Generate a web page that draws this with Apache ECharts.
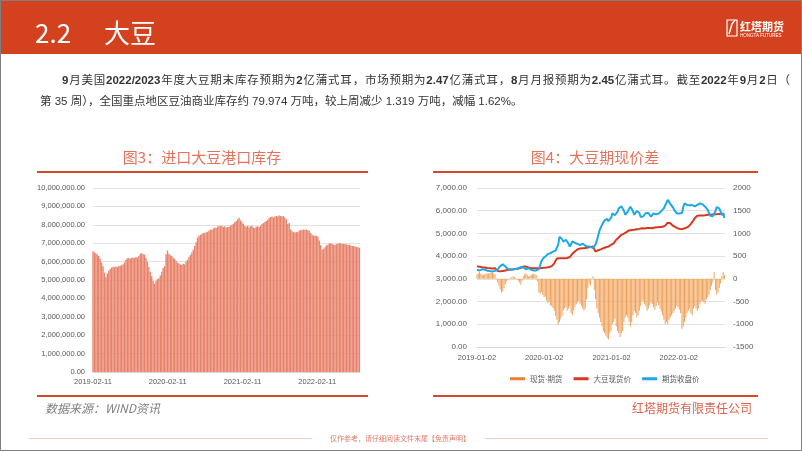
<!DOCTYPE html>
<html><head><meta charset="utf-8">
<script src="https://cdn.jsdelivr.net/npm/echarts@6/dist/echarts.min.js"></script>
<style>
html,body{margin:0;padding:0;background:#fff;}
#wrap{position:relative;width:802px;height:451px;overflow:hidden;background:#fff;}
#chart{position:absolute;left:0;top:0;width:802px;height:451px;}
.p{position:absolute;font-family:"Liberation Sans","Noto Sans CJK SC",sans-serif;font-size:11.5px;color:#333;line-height:14px;z-index:5;}
#l1{left:62px;top:73px;width:728px;text-align:justify;text-align-last:justify;}
#l2{left:40px;top:94px;white-space:nowrap;}
</style></head>
<body><div id="wrap"><div id="chart"></div>
<div class="p" id="l1"><b>9</b>月美国<b>2022/2023</b>年度大豆期末库存预期为<b>2</b>亿蒲式耳，市场预期为<b>2.47</b>亿蒲式耳，<b>8</b>月月报预期为<b>2.45</b>亿蒲式耳。截至<b>2022</b>年<b>9</b>月<b>2</b>日（</div>
<div class="p" id="l2">第 35 周），全国重点地区豆油商业库存约 79.974 万吨，较上周减少 1.319 万吨，减幅 1.62%。</div>
</div>
<script>
// ---- Figure 3: imported soybean port inventory (weekly, tonnes) ----
const invStart = '2019-02-11';
const invTicks = ['2019-02-11','2020-02-11','2021-02-11','2022-02-11'];
const invValues = [
6560000,6500000,6450000,6380000,6300000,6150000,5950000,5750000,5400000,5150000,
5350000,5500000,5600000,5680000,5720000,5700000,5730000,5700000,5750000,5780000,
5800000,5850000,5950000,6100000,6180000,6200000,6150000,6200000,6220000,6200000,
6250000,6220000,6300000,6420000,6450000,6400000,6380000,6200000,6000000,5700000,
5450000,5200000,4950000,4800000,4950000,5050000,5100000,5250000,5450000,5650000,
5750000,6400000,6600000,6420000,6350000,6300000,6220000,6150000,6050000,5950000,
5900000,5850000,5820000,5880000,5850000,6000000,6100000,6250000,6350000,6500000,
6650000,6850000,7050000,7300000,7400000,7450000,7500000,7550000,7550000,7600000,
7620000,7680000,7750000,7720000,7800000,7850000,7820000,7900000,7950000,7920000,
7950000,7880000,7920000,7850000,7880000,7900000,7950000,8000000,8050000,8150000,
8200000,8300000,8380000,8250000,8150000,8050000,7950000,7900000,7950000,7850000,
7920000,7950000,7850000,7820000,7900000,7920000,7880000,7950000,8050000,8100000,
8150000,8200000,8280000,8380000,8420000,8450000,8400000,8450000,8480000,8450000,
8500000,8480000,8450000,8480000,8400000,8300000,8050000,8100000,7750000,7650000,
7600000,7580000,7620000,7600000,7680000,7720000,7700000,7750000,7720000,7750000,
7700000,7680000,7550000,7450000,7400000,7420000,7400000,7350000,7150000,6900000,
6650000,6700000,6800000,6880000,6920000,6980000,7000000,6950000,6920000,6900000,
6950000,6980000,7000000,6980000,6950000,6970000,6950000,6930000,6900000,6920000,
6880000,6850000,6850000,6820000,6800000,6780000,6750000];

// ---- Figure 4: soybean basis (weekly) ----
const basisStart = '2019-01-02';
const basisTicks = ['2019-01-02','2020-01-02','2021-01-02','2022-01-02'];
const futValues = [
3400,3380,3370,3400,3420,3430,3410,3380,3360,3350,
3340,3330,3320,3340,3350,3360,3420,3480,3560,3620,
3640,3580,3540,3480,3430,3420,3400,3390,3410,3420,
3440,3430,3460,3480,3520,3540,3500,3440,3420,3450,
3470,3430,3400,3390,3370,3380,3370,3400,3430,3600,
3780,3880,3950,3980,4060,4100,4050,4130,4160,4200,
4180,4250,4300,4500,4850,4880,4750,4640,4680,4720,
4700,4550,4420,4520,4650,4620,4580,4560,4540,4500,
4490,4520,4550,4500,4460,4450,4420,4420,4410,4380,
4350,4400,4520,4680,4900,5120,5250,5380,5460,5580,
5660,5640,5540,5520,5680,5880,5900,5800,5830,5950,
6100,6120,6200,6270,6000,5820,5880,5960,6080,6180,
6150,5980,5820,5880,5990,6050,5900,5720,5660,5750,
5820,5900,5960,5900,5820,5740,5800,5880,5900,5840,
5800,5880,5950,5980,6060,6110,6150,6350,6480,6420,
6300,6220,6150,6040,5980,5880,5820,5880,5960,5900,
6150,6330,6300,6250,6260,6240,6270,6250,6200,6190,
6230,6260,6300,6320,6330,6280,6200,6180,6100,6040,
5900,5780,5740,5760,5800,5980,6160,6170,6100,5960,
5800,5900,5680];
const spotValues = [
3550,3540,3530,3520,3510,3500,3500,3490,3480,3470,
3470,3470,3460,3470,3470,3400,3350,3340,3330,3340,
3350,3360,3370,3390,3400,3400,3410,3420,3420,3430,
3440,3450,3460,3470,3480,3500,3540,3550,3540,3520,
3500,3480,3480,3470,3470,3470,3470,3470,3470,3480,
3480,3480,3490,3500,3500,3510,3520,3530,3560,3600,
3680,3800,3900,3920,3910,3900,3910,3920,3910,3900,
3920,3940,3960,4020,4100,4150,4200,4280,4300,4320,
4340,4350,4350,4360,4360,4370,4380,4390,4400,4410,
4420,4300,4200,4220,4260,4280,4300,4330,4350,4370,
4390,4400,4420,4460,4500,4520,4560,4640,4720,4780,
4820,4880,4940,4960,4990,5020,5060,5100,5130,5150,
5150,5160,5160,5170,5180,5190,5200,5220,5230,5230,
5220,5230,5240,5230,5240,5240,5230,5240,5260,5260,
5270,5270,5280,5280,5290,5300,5340,5420,5470,5520,
5450,5380,5340,5300,5280,5250,5220,5200,5190,5200,
5210,5230,5240,5260,5300,5380,5420,5480,5580,5680,
5750,5780,5790,5790,5780,5790,5800,5800,5810,5820,
5820,5820,5830,5830,5840,5840,5850,5850,5860,5870,
5860,5850,5820];
const basisValues = [
100,120,150,110,90,80,100,120,110,120,
130,140,130,120,100,20,-80,-150,-230,-300,
-280,-200,-120,-60,-20,-10,20,40,50,40,
20,-10,-40,-80,-130,-40,60,110,120,90,
50,70,90,100,110,100,80,-50,-300,-330,
-290,-350,-400,-390,-480,-530,-500,-580,-600,-640,
-700,-820,-900,-1010,-950,-880,-820,-700,-650,-620,
-700,-650,-600,-750,-800,-700,-620,-560,-520,-480,
-550,-600,-650,-700,-650,-450,-200,-100,-150,20,
60,-250,-450,-650,-750,-850,-950,-1050,-1150,-1200,
-1250,-1300,-1330,-1200,-1150,-1000,-950,-880,-1050,-1150,
-1200,-1280,-1200,-1150,-950,-850,-800,-850,-950,-1050,
-950,-800,-700,-750,-850,-800,-700,-600,-500,-480,
-550,-600,-700,-650,-580,-520,-560,-620,-680,-600,
-520,-580,-660,-720,-800,-900,-1000,-950,-1000,-900,
-850,-800,-750,-700,-650,-600,-620,-680,-750,-1100,
-1050,-950,-850,-750,-700,-650,-750,-800,-650,-600,
-650,-700,-650,-550,-500,-480,-520,-550,-450,-400,
-350,-250,-150,-80,150,-250,-350,-300,-200,-100,
60,150,80];

function ts(s){ const a=s.split('-').map(Number); return new Date(a[0],a[1]-1,a[2]).getTime(); }
function weeklyDates(start,n){ const a=start.split('-').map(Number); const out=[]; for(let i=0;i<n;i++) out.push(new Date(a[0],a[1]-1,a[2]+7*i).getTime()); return out; }
function fmtDate(v){ const d=new Date(v); const p=n=>String(n).padStart(2,'0'); return d.getFullYear()+'-'+p(d.getMonth()+1)+'-'+p(d.getDate()); }
function fmtNum(v){ return Number(v).toLocaleString('en-US',{minimumFractionDigits:2,maximumFractionDigits:2}); }

const invDates = weeklyDates(invStart, invValues.length);
const bDates = weeklyDates(basisStart, futValues.length);
const DAY = 86400000;
const lab = {fontSize:7.5, color:'#595959', fontFamily:'Liberation Sans'};
const grid = {lineStyle:{color:'#E2E2E2', width:1}};

const chart = echarts.init(document.getElementById('chart'), null, {renderer:'canvas'});
chart.setOption({
  animation:false,
  backgroundColor:'#fff',
  grid:[
    {left:93, top:188, width:267, height:184},
    {left:477, top:188, width:248, height:159}
  ],
  legend:{
    left:505, top:370, itemWidth:15, itemHeight:3, itemGap:11,
    textStyle:{fontSize:7.5, color:'#595959', fontFamily:'Noto Sans CJK SC'},
    data:[
      {name:'现货-期货', icon:'rect', itemStyle:{color:'#ED7D31'}},
      {name:'大豆现货价', icon:'rect'},
      {name:'期货收盘价', icon:'rect'}
    ]
  },
  xAxis:[
    {type:'value', gridIndex:0, min:ts(invStart), max:invDates[invDates.length-1]+3*DAY, scale:true,
     axisLine:{show:true, lineStyle:{color:'#D9D9D9'}}, axisTick:{show:false}, splitLine:{show:false},
     axisLabel:Object.assign({customValues:invTicks.map(ts), formatter:v=>fmtDate(v), margin:6, showMinLabel:true, hideOverlap:false}, lab)},
    {type:'value', gridIndex:1, min:ts(basisStart), max:bDates[bDates.length-1]+3*DAY, scale:true,
     axisLine:{show:true, lineStyle:{color:'#D9D9D9'}}, axisTick:{show:false}, splitLine:{show:false},
     axisLabel:Object.assign({customValues:basisTicks.map(ts), formatter:v=>fmtDate(v), margin:7, showMinLabel:true, hideOverlap:false}, lab)}
  ],
  yAxis:[
    {type:'value', gridIndex:0, min:0, max:10000000, interval:1000000,
     axisLine:{show:false}, axisTick:{show:false}, splitLine:grid,
     axisLabel:Object.assign({formatter:v=>fmtNum(v), margin:8}, lab)},
    {type:'value', gridIndex:1, position:'left', min:0, max:7000, interval:1000,
     axisLine:{show:false}, axisTick:{show:false}, splitLine:grid,
     axisLabel:Object.assign({formatter:v=>fmtNum(v), margin:10}, lab, {fontSize:8})},
    {type:'value', gridIndex:1, position:'right', min:-1500, max:2000, interval:500,
     axisLine:{show:false}, axisTick:{show:false}, splitLine:{show:false},
     axisLabel:Object.assign({formatter:v=>String(v), margin:8}, lab, {fontSize:8})}
  ],
  series:[
    {name:'进口大豆港口库存', type:'bar', xAxisIndex:0, yAxisIndex:0, barWidth:1.35,
     itemStyle:{color:'#E8826A'}, data:invDates.map((d,i)=>[d, invValues[i]])},
    {name:'现货-期货', type:'bar', xAxisIndex:1, yAxisIndex:2, barWidth:1.0,
     itemStyle:{color:'#F0A25A'}, data:bDates.map((d,i)=>[d, basisValues[i]])},
    {name:'大豆现货价', type:'line', xAxisIndex:1, yAxisIndex:1, showSymbol:false,
     lineStyle:{color:'#D8361E', width:2}, itemStyle:{color:'#D8361E'}, data:bDates.map((d,i)=>[d, spotValues[i]])},
    {name:'期货收盘价', type:'line', xAxisIndex:1, yAxisIndex:1, showSymbol:false,
     lineStyle:{color:'#1CA9E6', width:2}, itemStyle:{color:'#1CA9E6'}, data:bDates.map((d,i)=>[d, futValues[i]])}
  ],
  graphic:[
    {type:'rect', shape:{x:0,y:0,width:802,height:54}, style:{fill:'#D3411E'}, silent:true},
    {type:'rect', shape:{x:0,y:0,width:802,height:1}, style:{fill:'#8E6A50'}, silent:true},
    {type:'rect', shape:{x:0.5,y:0.5,width:801,height:450}, style:{fill:'none', stroke:'#7F7F7F', lineWidth:1}, silent:true},
    {type:'text', x:35, y:33, style:{text:'2.2', fill:'#fff', font:'26px "Noto Sans CJK SC"', verticalAlign:'middle'}},
    {type:'text', x:104, y:33, style:{text:'大豆', fill:'#fff', font:'26px "Noto Sans CJK SC"', verticalAlign:'middle'}},
    {type:'rect', shape:{x:727,y:20,width:10,height:16}, style:{fill:'none', stroke:'#fff', lineWidth:1.2}},
    {type:'polyline', shape:{points:[[729,34],[732,24],[735,20]]}, style:{stroke:'#fff', lineWidth:1.5, fill:'none'}},
    {type:'text', x:740, y:27, style:{text:'红塔期货', fill:'#fff', font:'bold 11px "Noto Sans CJK SC"', verticalAlign:'middle'}},
    {type:'text', x:740, y:35.5, style:{text:'HONGTA FUTURES', fill:'#fff', font:'4.5px "Liberation Sans"', verticalAlign:'middle'}},
    {type:'text', x:202, y:157, style:{text:'图3：进口大豆港口库存', fill:'#E5735C', font:'15px "Noto Sans CJK SC"', align:'center', verticalAlign:'middle'}},
    {type:'text', x:595, y:157, style:{text:'图4：大豆期现价差', fill:'#E5735C', font:'15px "Noto Sans CJK SC"', align:'center', verticalAlign:'middle'}},
    {type:'rect', shape:{x:37,y:171,width:331,height:2}, style:{fill:'#D44A2A'}},
    {type:'rect', shape:{x:433,y:171,width:325,height:2}, style:{fill:'#D44A2A'}},
    {type:'rect', shape:{x:37,y:395,width:331,height:2}, style:{fill:'#D44A2A'}},
    {type:'rect', shape:{x:433,y:395,width:325,height:2}, style:{fill:'#D44A2A'}},
    {type:'text', x:45, y:408, style:{text:'数据来源：WIND资讯', fill:'#7F7F7F', font:'italic 12px "Noto Sans CJK SC"', verticalAlign:'middle'}},
    {type:'text', x:752, y:408, style:{text:'红塔期货有限责任公司', fill:'#E0604A', font:'12px "Noto Sans CJK SC"', align:'right', verticalAlign:'middle'}},
    {type:'rect', shape:{x:29,y:438,width:283,height:1}, style:{fill:'#F2C9C0'}},
    {type:'rect', shape:{x:485,y:438,width:283,height:1}, style:{fill:'#F2C9C0'}},
    {type:'text', x:400, y:438, style:{text:'仅作参考，请仔细阅读文件末尾【免责声明】', fill:'#E07A6A', font:'7px "Noto Sans CJK SC"', align:'center', verticalAlign:'middle'}}
  ]
});
</script></body></html>
